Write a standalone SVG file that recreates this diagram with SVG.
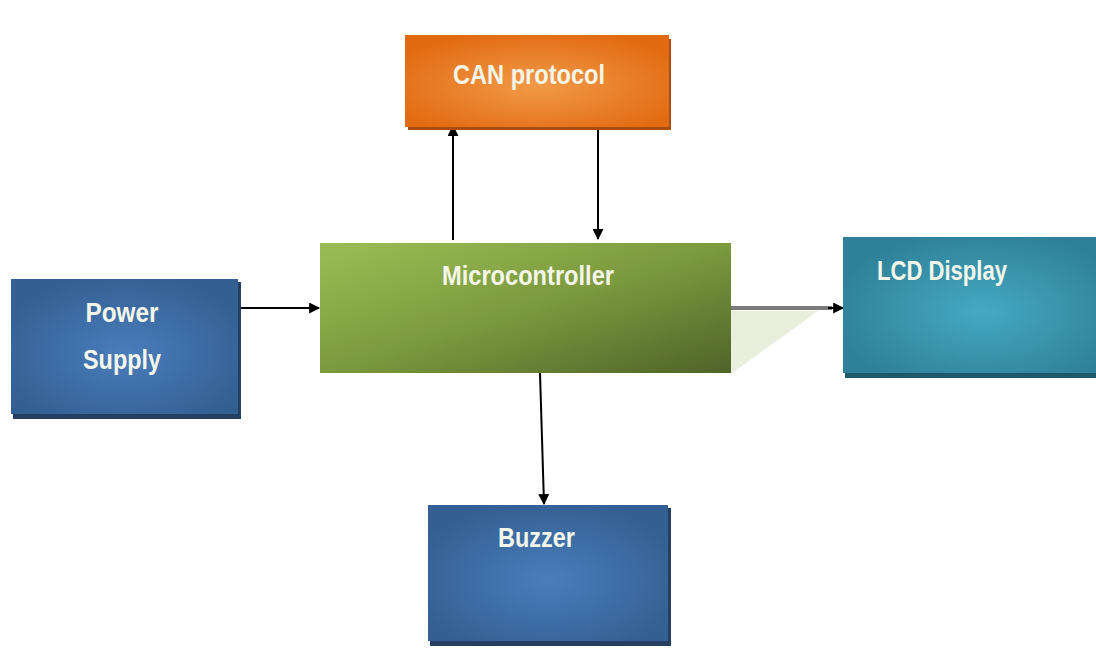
<svg xmlns="http://www.w3.org/2000/svg" width="1096" height="649" viewBox="0 0 1096 649">
<style>
.lbl{font-family:"Liberation Sans",Arial,sans-serif;font-weight:bold;font-size:27px;fill:#f4f6ea;}
.conn{stroke:#000;stroke-width:2;fill:none;}
</style>
<defs>
<marker id="ah" viewBox="0 0 10 10" refX="9" refY="5" markerWidth="6" markerHeight="5.5" orient="auto" markerUnits="strokeWidth">
<path d="M0,0 L10,5 L0,10 z" fill="#000"/>
</marker>
<radialGradient id="gOrange" cx="0.5" cy="0.55" r="0.6">
<stop offset="0" stop-color="#f29a48"/>
<stop offset="1" stop-color="#e26b12"/>
</radialGradient>
<linearGradient id="gGreen" x1="0" y1="0" x2="1" y2="1">
<stop offset="0" stop-color="#9cbd55"/>
<stop offset="0.5" stop-color="#7c9a3e"/>
<stop offset="1" stop-color="#4e6429"/>
</linearGradient>
<radialGradient id="gBlue" cx="0.5" cy="0.55" r="0.6">
<stop offset="0" stop-color="#4a7dbb"/>
<stop offset="1" stop-color="#335f92"/>
</radialGradient>
<radialGradient id="gTeal" cx="0.55" cy="0.55" r="0.6">
<stop offset="0" stop-color="#46a9c2"/>
<stop offset="1" stop-color="#2e8199"/>
</radialGradient>
</defs>
<rect width="1096" height="649" fill="#ffffff"/>

<g id="connectors">
<line class="conn" x1="240" y1="308" x2="319" y2="308" marker-end="url(#ah)"/>
<line class="conn" x1="453" y1="240" x2="453" y2="126" marker-end="url(#ah)"/>
<line class="conn" x1="598" y1="128" x2="598" y2="239" marker-end="url(#ah)"/>
<line class="conn" x1="540" y1="373" x2="544" y2="504" marker-end="url(#ah)"/>
<polygon points="731,311 818,311 731,374" fill="#e9eedd"/>
<line x1="731" y1="308" x2="832" y2="308" stroke="#7a7a7a" stroke-width="4"/>
<line class="conn" x1="828" y1="308" x2="843" y2="308" marker-end="url(#ah)"/>
</g>

<g id="can">
<rect x="408" y="39" width="263" height="91" fill="#a84d0c"/>
<rect x="405" y="35" width="264" height="92" fill="url(#gOrange)"/>
<text class="lbl" x="529" y="84" text-anchor="middle" textLength="152" lengthAdjust="spacingAndGlyphs">CAN protocol</text>
</g>

<g id="micro">
<rect x="320" y="243" width="411" height="130" fill="url(#gGreen)"/>
<text class="lbl" x="528" y="285" text-anchor="middle" textLength="172" lengthAdjust="spacingAndGlyphs">Microcontroller</text>
</g>

<g id="power">
<rect x="13" y="282" width="228" height="137" fill="#253f62"/>
<rect x="11" y="279" width="227" height="135" fill="url(#gBlue)"/>
<text class="lbl" x="122" y="322" text-anchor="middle" textLength="73" lengthAdjust="spacingAndGlyphs">Power</text>
<text class="lbl" x="122" y="369" text-anchor="middle" textLength="78" lengthAdjust="spacingAndGlyphs">Supply</text>
</g>

<g id="lcd">
<rect x="845" y="240" width="251" height="138" fill="#1f5868"/>
<rect x="843" y="237" width="253" height="136" fill="url(#gTeal)"/>
<text class="lbl" x="877" y="280" textLength="130" lengthAdjust="spacingAndGlyphs">LCD Display</text>
</g>

<g id="buzzer">
<rect x="430" y="508" width="241" height="138" fill="#253f62"/>
<rect x="428" y="505" width="240" height="136" fill="url(#gBlue)"/>
<text class="lbl" x="498" y="547" textLength="77" lengthAdjust="spacingAndGlyphs">Buzzer</text>
</g>
</svg>
